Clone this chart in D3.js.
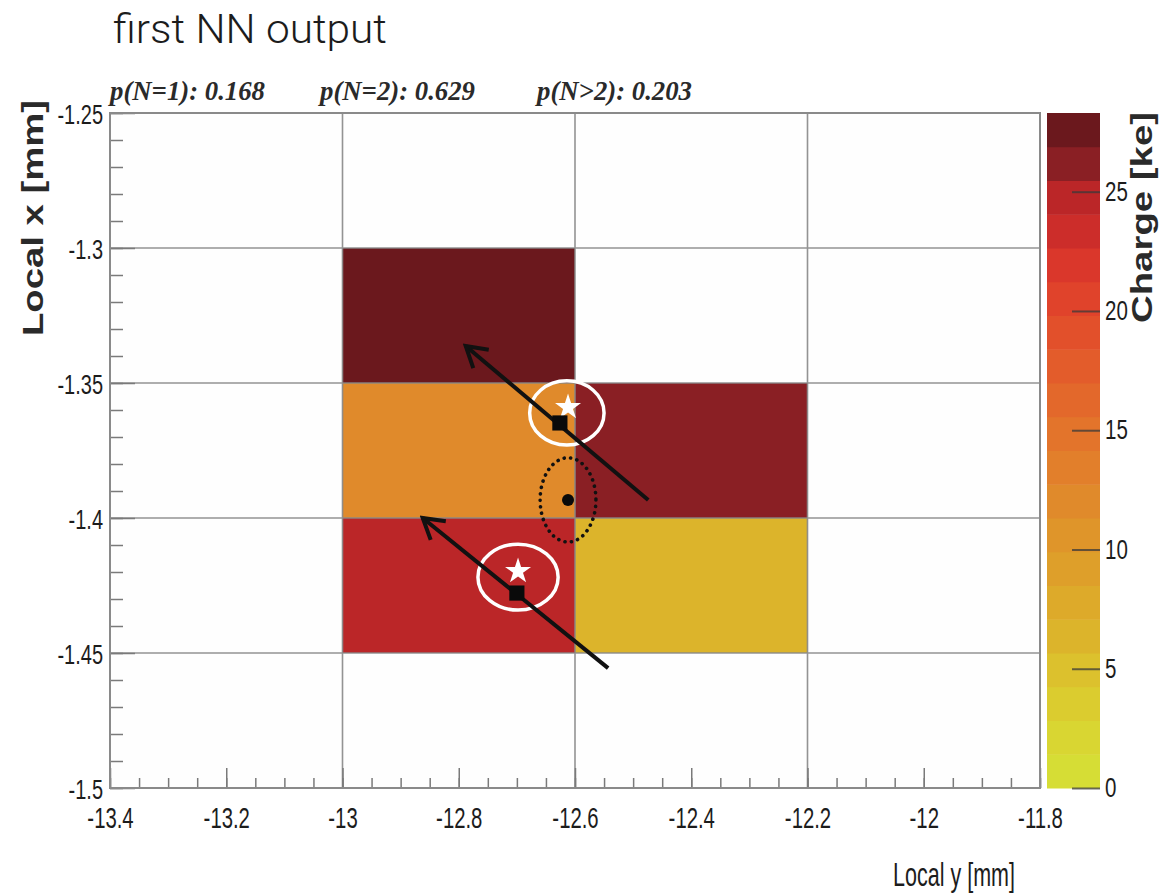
<!DOCTYPE html>
<html>
<head>
<meta charset="utf-8">
<script src="https://cdn.jsdelivr.net/npm/d3@7"></script>
<style>
  body { margin: 0; background: #fff; }
  svg text { fill: #1c1c1c; }
</style>
</head>
<body>
<script>
// Fired pixels of the cluster: left edge (local y), top edge (local x), collected charge [ke]
const cellLocalY = [-13.0, -13.0, -12.6, -13.0, -12.6];
const cellLocalX = [-1.30, -1.35, -1.35, -1.40, -1.40];
const cellCharge = [28.0, 12.5, 26.2, 24.8, 6.5];
const pitchLocalY = 0.4;
const pitchLocalX = 0.05;

// Pixel boundaries
const gridLocalY = [-13.0, -12.6, -12.2];
const gridLocalX = [-1.30, -1.35, -1.40, -1.45];

// Axis ticks
const xTickValues = [-13.4, -13.2, -13.0, -12.8, -12.6, -12.4, -12.2, -12.0, -11.8];
const xTickLabels = ["-13.4", "-13.2", "-13", "-12.8", "-12.6", "-12.4", "-12.2", "-12", "-11.8"];
const yTickValues = [-1.25, -1.30, -1.35, -1.40, -1.45, -1.50];
const yTickLabels = ["-1.25", "-1.3", "-1.35", "-1.4", "-1.45", "-1.5"];
const chargeTickValues = [0, 5, 10, 15, 20, 25];
const chargeTickLabels = ["0", "5", "10", "15", "20", "25"];
const chargeMax = 28.3;

// Colour palette, lowest to highest charge
const palette = [
  "#d6dd35", "#d9d632", "#dbcc2f", "#dcc12d", "#dcb42b",
  "#ddaa2a", "#de9f2a", "#df952a", "#e08a2b", "#e27f2b",
  "#e3742b", "#e3682b", "#e35c2b", "#e2502b", "#e0432b",
  "#da372b", "#cc2d2a", "#bb2628", "#8a1f24", "#6b181d"
];

// Multiplicity probabilities from the first network
const probLabels = ["p(N=1): 0.168", "p(N=2): 0.629", "p(N>2): 0.203"];

// Particle tracks (start point -> arrow tip)
const trackStartY = [-12.474, -12.543];
const trackStartX = [-1.3933, -1.4556];
const trackEndY = [-12.788, -12.862];
const trackEndX = [-1.3363, -1.4000];

// True hit positions (squares)
const truthLocalY = [-12.626, -12.700];
const truthLocalX = [-1.3648, -1.4278];

// NN position estimates (stars) and their uncertainties (ellipses)
const nnLocalY = [-12.612, -12.698];
const nnLocalX = [-1.3590, -1.4197];
const nnErrCenterY = [-12.614, -12.698];
const nnErrCenterX = [-1.3611, -1.4219];
const nnErrY = [0.064, 0.069];
const nnErrX = [0.0119, 0.0122];

// Charge centroid and its spread
const centroidLocalY = [-12.612];
const centroidLocalX = [-1.3933];
const centroidErrY = [0.048];
const centroidErrX = [0.0156];

const W = 1162, H = 895;
const plot = { left: 110, right: 1040, top: 113, bottom: 788 };
const bar = { left: 1047, right: 1100 };

const svg = d3.select("body").append("svg").attr("width", W).attr("height", H);

const x = d3.scaleLinear().domain([-13.4, -11.8]).range([plot.left, plot.right]);
const y = d3.scaleLinear().domain([-1.5, -1.25]).range([plot.bottom, plot.top]);
const colour = d3.scaleQuantize().domain([0, chargeMax]).range(palette);
const cScale = d3.scaleLinear().domain([0, chargeMax]).range([plot.bottom, plot.top]);

// squeeze a text element horizontally to a fraction of its natural width
function condense(sel, f) {
  sel.each(function () {
    const w = this.getComputedTextLength();
    d3.select(this).attr("textLength", w * f).attr("lengthAdjust", "spacingAndGlyphs");
  });
}

// Title
svg.append("text")
  .attr("x", 113).attr("y", 43)
  .style("font-family", "'Helvetica Neue', Roboto, 'Open Sans', sans-serif")
  .style("font-weight", 300)
  .style("font-size", "41px")
  .attr("textLength", 274).attr("lengthAdjust", "spacingAndGlyphs")
  .text("first NN output");

// Probabilities above the frame
const probX = [110, 320, 537];
svg.selectAll("text.prob").data(probLabels).join("text")
  .attr("class", "prob")
  .attr("x", (d, i) => probX[i]).attr("y", 100)
  .style("font-family", "'Liberation Serif', 'Times New Roman', serif")
  .style("font-style", "italic")
  .style("font-weight", "bold")
  .style("font-size", "27px")
  .style("fill", "#2a2a2a")
  .attr("textLength", 155).attr("lengthAdjust", "spacingAndGlyphs")
  .text(d => d);

// Plot background
svg.append("rect")
  .attr("x", plot.left).attr("y", plot.top)
  .attr("width", plot.right - plot.left).attr("height", plot.bottom - plot.top)
  .attr("fill", "#fefefe");

// Pixel cells
const cells = d3.range(cellCharge.length);
svg.append("g").selectAll("rect").data(cells).join("rect")
  .attr("x", i => x(cellLocalY[i]))
  .attr("y", i => y(cellLocalX[i]))
  .attr("width", i => x(cellLocalY[i] + pitchLocalY) - x(cellLocalY[i]))
  .attr("height", i => y(cellLocalX[i] - pitchLocalX) - y(cellLocalX[i]))
  .attr("fill", i => colour(cellCharge[i]));

// Pixel boundary grid
const grid = svg.append("g").attr("stroke", "#888").attr("stroke-width", 1.6).attr("opacity", 0.9);
grid.selectAll("line.v").data(gridLocalY).join("line").attr("class", "v")
  .attr("x1", d => x(d)).attr("x2", d => x(d))
  .attr("y1", plot.top).attr("y2", plot.bottom);
grid.selectAll("line.h").data(gridLocalX).join("line").attr("class", "h")
  .attr("x1", plot.left).attr("x2", plot.right)
  .attr("y1", d => y(d)).attr("y2", d => y(d));

// Axes (ticks pointing into the frame)
const tickFont = "'Liberation Sans', Arial, sans-serif";
function styleAxis(g) {
  g.select(".domain").remove();
  g.selectAll(".tick line").attr("stroke", "#7a7a7a").attr("stroke-width", 1.5);
}

svg.append("g").attr("transform", `translate(0,${plot.bottom})`)
  .call(d3.axisBottom(x).ticks(32).tickSize(-10).tickFormat(""))
  .call(styleAxis);
svg.append("g").attr("transform", `translate(${plot.left},0)`)
  .call(d3.axisLeft(y).ticks(25).tickSize(-13).tickFormat(""))
  .call(styleAxis);

const xAxis = svg.append("g").attr("transform", `translate(0,${plot.bottom})`)
  .call(d3.axisBottom(x).tickValues(xTickValues).tickSize(-20).tickPadding(19)
    .tickFormat((d, i) => xTickLabels[i]))
  .call(styleAxis);
xAxis.selectAll("text").style("font-family", tickFont).style("font-size", "29px").attr("fill", "#1c1c1c");
condense(xAxis.selectAll("text"), 0.7);

const yAxis = svg.append("g").attr("transform", `translate(${plot.left},0)`)
  .call(d3.axisLeft(y).tickValues(yTickValues).tickSize(-25).tickPadding(7)
    .tickFormat((d, i) => yTickLabels[i]))
  .call(styleAxis);
yAxis.selectAll("text").style("font-family", tickFont).style("font-size", "27px").attr("fill", "#1c1c1c")
  .attr("dy", "0.38em");
condense(yAxis.selectAll("text"), 0.74);

// Frame
svg.append("rect")
  .attr("x", plot.left).attr("y", plot.top)
  .attr("width", plot.right - plot.left).attr("height", plot.bottom - plot.top)
  .attr("fill", "none").attr("stroke", "#8a8a8a").attr("stroke-width", 2);

// Axis titles
svg.append("text")
  .attr("transform", `translate(43,336) rotate(-90)`)
  .style("font-family", "'Liberation Sans', Arial, sans-serif")
  .style("font-weight", "bold").style("font-size", "29px")
  .style("fill", "#2a2a2a")
  .attr("textLength", 236).attr("lengthAdjust", "spacingAndGlyphs")
  .text("Local x [mm]");

svg.append("text")
  .attr("x", 893).attr("y", 886)
  .style("font-family", "'Liberation Sans', Arial, sans-serif")
  .style("font-size", "34px")
  .attr("textLength", 122).attr("lengthAdjust", "spacingAndGlyphs")
  .text("Local y [mm]");

// Colour bar
const step = chargeMax / palette.length;
svg.append("g").selectAll("rect").data(palette).join("rect")
  .attr("x", bar.left).attr("width", bar.right - bar.left)
  .attr("y", (c, i) => cScale((i + 1) * step))
  .attr("height", (c, i) => cScale(i * step) - cScale((i + 1) * step) + 0.5)
  .attr("fill", c => c);

const cAxis = svg.append("g").attr("transform", `translate(${bar.right},0)`)
  .call(d3.axisRight(cScale).tickValues(chargeTickValues).tickSize(-28).tickPadding(5)
    .tickFormat((d, i) => chargeTickLabels[i]));
cAxis.select(".domain").remove();
cAxis.selectAll(".tick line").attr("stroke", "#3a3a3a").attr("stroke-width", 2).attr("opacity", 0.75);
cAxis.selectAll("text").style("font-family", tickFont).style("font-size", "27px").attr("fill", "#1c1c1c");
condense(cAxis.selectAll("text"), 0.76);

svg.append("text")
  .attr("transform", `translate(1152,323) rotate(-90)`)
  .style("font-family", "'Liberation Sans', Arial, sans-serif")
  .style("font-weight", "bold").style("font-size", "29px")
  .style("fill", "#2a2a2a")
  .attr("textLength", 211).attr("lengthAdjust", "spacingAndGlyphs")
  .text("Charge [ke]");

// Markers layer
const marks = svg.append("g");

// NN uncertainty ellipses
marks.selectAll("ellipse.nn").data(nnErrY).join("ellipse").attr("class", "nn")
  .attr("cx", (d, i) => x(nnErrCenterY[i]))
  .attr("cy", (d, i) => y(nnErrCenterX[i]))
  .attr("rx", (d, i) => x(nnErrCenterY[i] + nnErrY[i]) - x(nnErrCenterY[i]))
  .attr("ry", (d, i) => y(nnErrCenterX[i] - nnErrX[i]) - y(nnErrCenterX[i]))
  .attr("fill", "none").attr("stroke", "#fff").attr("stroke-width", 3.5);

// Charge centroid spread
marks.selectAll("ellipse.cog").data(centroidErrY).join("ellipse").attr("class", "cog")
  .attr("cx", (d, i) => x(centroidLocalY[i]))
  .attr("cy", (d, i) => y(centroidLocalX[i]))
  .attr("rx", (d, i) => x(centroidLocalY[i] + centroidErrY[i]) - x(centroidLocalY[i]))
  .attr("ry", (d, i) => y(centroidLocalX[i] - centroidErrX[i]) - y(centroidLocalX[i]))
  .attr("fill", "none").attr("stroke", "#111").attr("stroke-width", 3.6)
  .attr("stroke-dasharray", "0.1 6.4").attr("stroke-linecap", "round");

// Tracks
svg.append("defs").append("marker")
  .attr("id", "head")
  .attr("viewBox", "-24 -14 28 28")
  .attr("markerUnits", "userSpaceOnUse")
  .attr("markerWidth", 28).attr("markerHeight", 28)
  .attr("refX", 0).attr("refY", 0)
  .attr("orient", "auto")
  .append("path")
  .attr("d", "M-20,-12L0,0L-20,12")
  .attr("fill", "none").attr("stroke", "#111").attr("stroke-width", 4)
  .attr("stroke-linejoin", "miter");

marks.selectAll("line.track").data(trackStartY).join("line").attr("class", "track")
  .attr("x1", (d, i) => x(trackStartY[i])).attr("y1", (d, i) => y(trackStartX[i]))
  .attr("x2", (d, i) => x(trackEndY[i])).attr("y2", (d, i) => y(trackEndX[i]))
  .attr("stroke", "#111").attr("stroke-width", 4)
  .attr("marker-end", "url(#head)");

// Centroid
marks.selectAll("circle.cog").data(centroidLocalY).join("circle").attr("class", "cog")
  .attr("cx", (d, i) => x(centroidLocalY[i]))
  .attr("cy", (d, i) => y(centroidLocalX[i]))
  .attr("r", 6).attr("fill", "#0a0a0a");

// NN estimates
marks.selectAll("path.nn").data(nnLocalY).join("path").attr("class", "nn")
  .attr("transform", (d, i) => `translate(${x(nnLocalY[i])},${y(nnLocalX[i])})`)
  .attr("d", d3.symbol(d3.symbolStar, 210))
  .attr("fill", "#fff");

// True positions
marks.selectAll("path.truth").data(truthLocalY).join("path").attr("class", "truth")
  .attr("transform", (d, i) => `translate(${x(truthLocalY[i])},${y(truthLocalX[i])})`)
  .attr("d", d3.symbol(d3.symbolSquare, 230))
  .attr("fill", "#0a0a0a");
</script>
</body>
</html>
